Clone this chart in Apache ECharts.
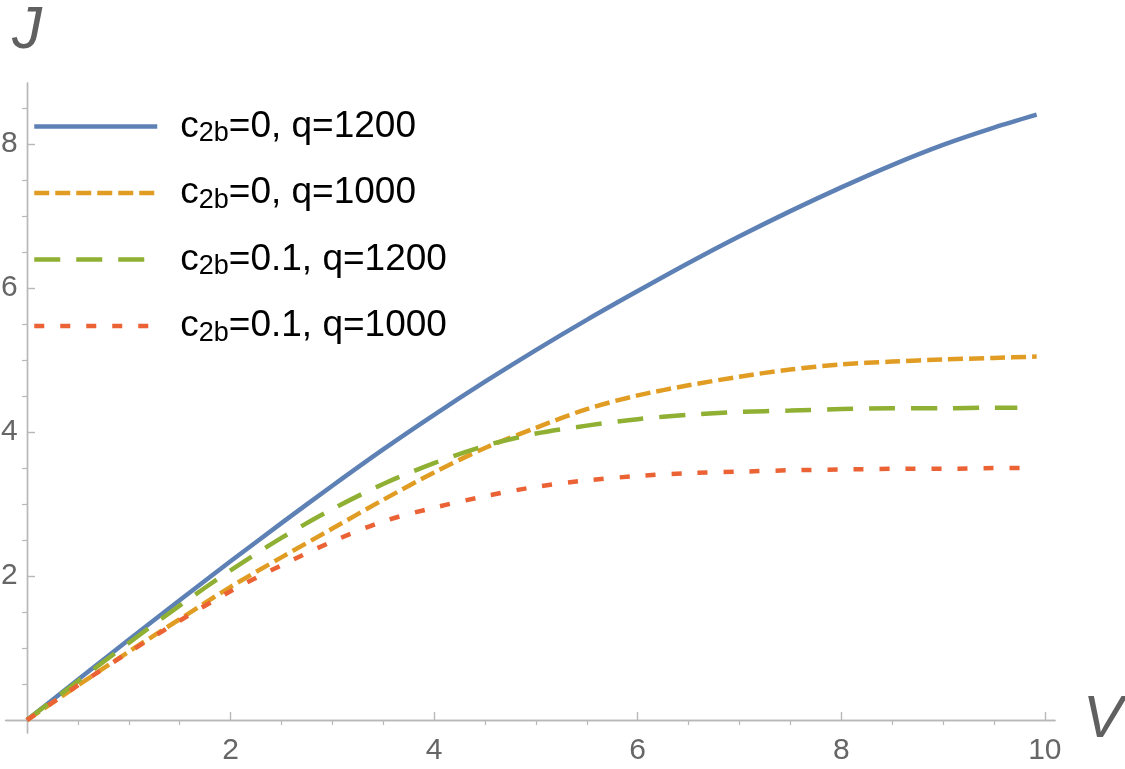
<!DOCTYPE html>
<html>
<head>
<meta charset="utf-8">
<script src="https://cdn.jsdelivr.net/npm/echarts@6.0.0/dist/echarts.min.js"></script>
<style>
  html, body { margin: 0; padding: 0; background: #fff; }
  #chart { width: 1125px; height: 769px; }
</style>
</head>
<body>
<div id="chart"></div>
<script>
// V sample points shared by all curves
const vSteps = [0, 0.5, 1, 1.5, 2, 2.5, 3, 3.5, 4, 4.5, 5, 5.5, 6, 6.5, 7, 7.5, 8, 8.5, 9, 9.5];

const blueJ = [0, 0.56, 1.115, 1.665, 2.205, 2.735, 3.255, 3.76, 4.24, 4.70, 5.14, 5.56, 5.96, 6.35, 6.72, 7.07, 7.40, 7.71, 7.99, 8.23];
const orangeJ = [0, 0.48, 0.95, 1.40, 1.85, 2.26, 2.66, 3.06, 3.44, 3.78, 4.06, 4.32, 4.51, 4.65, 4.77, 4.87, 4.94, 4.98, 5.01, 5.03];
const greenJ = [0, 0.54, 1.07, 1.59, 2.08, 2.53, 2.93, 3.28, 3.57, 3.81, 3.98, 4.09, 4.18, 4.24, 4.28, 4.30, 4.32, 4.33, 4.33, 4.34];
const redJ = [0, 0.48, 0.94, 1.38, 1.79, 2.15, 2.48, 2.76, 2.95, 3.11, 3.24, 3.33, 3.39, 3.43, 3.45, 3.47, 3.48, 3.49, 3.49, 3.50];

// where each curve stops [V, J]
const blueEnd = [9.92, 8.41];
const orangeEnd = [9.92, 5.05];
const greenEnd = [9.73, 4.34];
const redEnd = [9.82, 3.50];

const seriesNames = ['c2b=0, q=1200', 'c2b=0, q=1000', 'c2b=0.1, q=1200', 'c2b=0.1, q=1000'];

const xMajorTicks = [2, 4, 6, 8, 10];
const xMinorTicks = [0.5, 1, 1.5, 2.5, 3, 3.5, 4.5, 5, 5.5, 6.5, 7, 7.5, 8.5, 9, 9.5];
const yMajorTicks = [2, 4, 6, 8];
const yMinorTicks = [0.5, 1, 1.5, 2.5, 3, 3.5, 4.5, 5, 5.5, 6.5, 7, 7.5, 8.5];

function toPoints(js, end) {
  const pts = vSteps.map((v, i) => [v, js[i]]);
  pts.push(end);
  return pts;
}

const axisGray = '#b8b8b8';
const labelGray = '#666666';
const font = '"Liberation Sans", Arial, sans-serif';

const chart = echarts.init(document.getElementById('chart'), null, { renderer: 'canvas' });

function lineSeries(name, pts, color, dash) {
  return {
    name: name,
    type: 'line',
    data: pts,
    smooth: 0.3,
    showSymbol: false,
    symbol: 'none',
    lineStyle: { color: color, width: 4.5, type: dash },
    itemStyle: { color: color },
    emphasis: { disabled: true }
  };
}

// labels stay at the grid edge, so margins are measured from there
const majorAxisX = {
  type: 'value',
  min: -0.21,
  max: 10.1,
  axisLine: { onZero: true, onZeroAxisIndex: 0, lineStyle: { color: axisGray, width: 1.4 } },
  axisTick: { show: true, inside: true, length: 8, customValues: xMajorTicks, lineStyle: { color: axisGray, width: 1.4 } },
  axisLabel: { customValues: xMajorTicks, margin: 3, color: labelGray, fontSize: 30, fontFamily: font },
  splitLine: { show: false },
  name: 'V',
  nameLocation: 'end',
  nameGap: 28,
  nameTextStyle: { color: '#606060', fontSize: 60, fontStyle: 'italic', fontFamily: font, verticalAlign: 'middle' }
};

const minorAxisX = {
  type: 'value',
  min: -0.21,
  max: 10.1,
  axisLine: { onZero: true, onZeroAxisIndex: 0, lineStyle: { color: axisGray, width: 1.4 } },
  axisTick: { show: true, inside: true, length: 5, customValues: xMinorTicks, lineStyle: { color: axisGray, width: 1.2 } },
  axisLabel: { show: false },
  splitLine: { show: false }
};

const majorAxisY = {
  type: 'value',
  min: -0.18,
  max: 8.85,
  axisLine: { show: true, onZero: true, onZeroAxisIndex: 0, lineStyle: { color: axisGray, width: 1.4 } },
  axisTick: { show: true, inside: true, length: 8, customValues: yMajorTicks, lineStyle: { color: axisGray, width: 1.4 } },
  axisLabel: { customValues: yMajorTicks, margin: -12, color: labelGray, fontSize: 30, fontFamily: font, align: 'right' },
  splitLine: { show: false },
  name: 'J',
  nameLocation: 'end',
  nameGap: 22,
  nameTextStyle: { color: '#606060', fontSize: 60, fontStyle: 'italic', fontFamily: font }
};

const minorAxisY = {
  type: 'value',
  min: -0.18,
  max: 8.85,
  axisLine: { show: true, onZero: true, onZeroAxisIndex: 0, lineStyle: { color: axisGray, width: 1.4 } },
  axisTick: { show: true, inside: true, length: 5, customValues: yMinorTicks, lineStyle: { color: axisGray, width: 1.2 } },
  axisLabel: { show: false },
  splitLine: { show: false }
};

const option = {
  animation: false,
  backgroundColor: '#ffffff',
  grid: { left: 5.6, right: 70, top: 83, bottom: 36, containLabel: false, outerBoundsMode: 'none' },
  xAxis: [majorAxisX, minorAxisX],
  yAxis: [majorAxisY, minorAxisY],
  legend: {
    orient: 'vertical',
    left: 32,
    top: 108,
    padding: 0,
    itemWidth: 123,
    itemHeight: 14,
    itemGap: 27,
    selectedMode: false,
    data: seriesNames,
    itemStyle: { opacity: 0, borderWidth: 0 },
    lineStyle: { width: 4.5 },
    formatter: (name) => name.replace('c2b', '{c|c}{s|2b}{t|') + '}',
    textStyle: {
      color: '#000',
      fontFamily: font,
      padding: [0, 0, 0, 18],
      rich: {
        c: { fontSize: 37, lineHeight: 42, color: '#000', fontFamily: font },
        s: { fontSize: 27, lineHeight: 18, verticalAlign: 'bottom', color: '#000', fontFamily: font },
        t: { fontSize: 37, lineHeight: 42, color: '#000', fontFamily: font }
      }
    }
  },
  series: [
    lineSeries(seriesNames[0], toPoints(blueJ, blueEnd), '#5E81B5', 'solid'),
    lineSeries(seriesNames[1], toPoints(orangeJ, orangeEnd), '#E19C24', [15, 6]),
    lineSeries(seriesNames[2], toPoints(greenJ, greenEnd), '#8FB032', [26, 16]),
    lineSeries(seriesNames[3], toPoints(redJ, redEnd), '#EB6235', [10, 16])
  ]
};

chart.setOption(option);
</script>
</body>
</html>
